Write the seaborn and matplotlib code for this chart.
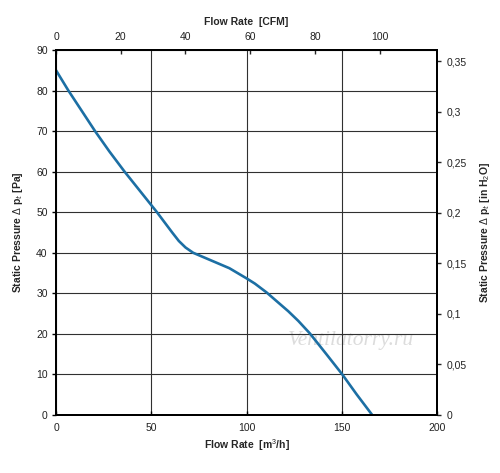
import numpy as np
import pandas as pd
import matplotlib
matplotlib.use("Agg")
import matplotlib.pyplot as plt
from matplotlib.ticker import FuncFormatter, MultipleLocator
import seaborn as sns

# fan curve
flow_m3h = [0, 6.5, 13.5, 20.5, 28, 36, 44.5, 53, 57, 61, 64.5, 68, 72, 76, 81,
            91, 100, 104.4, 110.6, 115.5, 121.9, 127.2, 133.3, 142.1, 150.3, 157.8, 166]
pressure_pa = [85, 80, 75, 70, 65, 60, 55, 50, 47.5, 45, 42.9, 41.3, 40, 39.2, 38.2,
               36.2, 33.7, 32.4, 30.2, 28.2, 25.6, 23.2, 20.1, 14.9, 10, 5.1, 0]

PA_PER_INH2O = 249.089
M3H_PER_CFM = 1.699

sns.set_style("white")
plt.rcParams['font.family'] = ['Liberation Sans', 'DejaVu Sans']
plt.rcParams['mathtext.fontset'] = 'custom'
plt.rcParams['mathtext.rm'] = 'Liberation Sans'
plt.rcParams['mathtext.bf'] = 'Liberation Sans:bold'

df = pd.DataFrame({'flow': flow_m3h, 'p': pressure_pa})

fig = plt.figure(figsize=(5, 4.73), dpi=100)
ax = fig.add_axes([0.112, 0.1226, 0.762, 0.7717])

sns.lineplot(data=df, x='flow', y='p', ax=ax, color='#1c6fa4', linewidth=1.9)
ax.lines[0].set_solid_joinstyle('round')

ax.set_xlim(0, 200)
ax.set_ylim(0, 90)
ax.xaxis.set_major_locator(MultipleLocator(50))
ax.yaxis.set_major_locator(MultipleLocator(10))
ax.grid(True, color='#303030', linewidth=0.8)
ax.set_axisbelow(True)
for s in ax.spines.values():
    s.set_color('black')
    s.set_linewidth(1.4)

ax.tick_params(axis='x', direction='in', length=3, width=1, labelsize=7.5, colors='black', labelcolor='#222222', pad=6)
ax.tick_params(axis='y', direction='out', length=3, width=1, labelsize=7.5, colors='black', labelcolor='#222222', pad=3)
ax.set_xlabel("Flow Rate  [m$^3$/h]", fontsize=7.5, fontweight='bold', labelpad=3)
ax.set_ylabel(r"Static Pressure $\Delta$ p$_t$ [Pa]", fontsize=7.5, fontweight='bold', labelpad=8)

# right axis in inches of water
ax_r = ax.twinx()
ax_r.set_ylim(0, 90 / PA_PER_INH2O)
ax_r.yaxis.set_major_locator(MultipleLocator(0.05))
ax_r.yaxis.set_major_formatter(FuncFormatter(
    lambda v, pos: f"{v:.2f}".rstrip('0').rstrip('.').replace('.', ',')))
ax_r.tick_params(axis='y', direction='out', length=3, width=1, labelsize=7.5, labelcolor='#222222', pad=4)
ax_r.set_ylabel(r"Static Pressure $\Delta$ p$_t$ [in H$_2$O]", fontsize=7.5, fontweight='bold', labelpad=8)
ax_r.grid(False)

# top axis in CFM
ax_t = ax.twiny()
ax_t.set_xlim(0, 200 / M3H_PER_CFM)
ax_t.xaxis.set_major_locator(MultipleLocator(20))
ax_t.tick_params(axis='x', direction='in', length=3, width=1, labelsize=7.5, labelcolor='#222222', pad=6)
ax_t.set_xlabel("Flow Rate  [CFM]", fontsize=7.5, fontweight='bold', labelpad=5)
ax_t.grid(False)
for a in (ax_r, ax_t):
    for s in a.spines.values():
        s.set_color('black')
        s.set_linewidth(1.4)

ax.text(0.775, 0.205, "Ventilatorry.ru", transform=ax.transAxes, fontsize=15.5,
        style='italic', family='Liberation Serif', color='#dcdcdc', ha='center', va='center', zorder=0)

fig.savefig("out.png", dpi=100)
